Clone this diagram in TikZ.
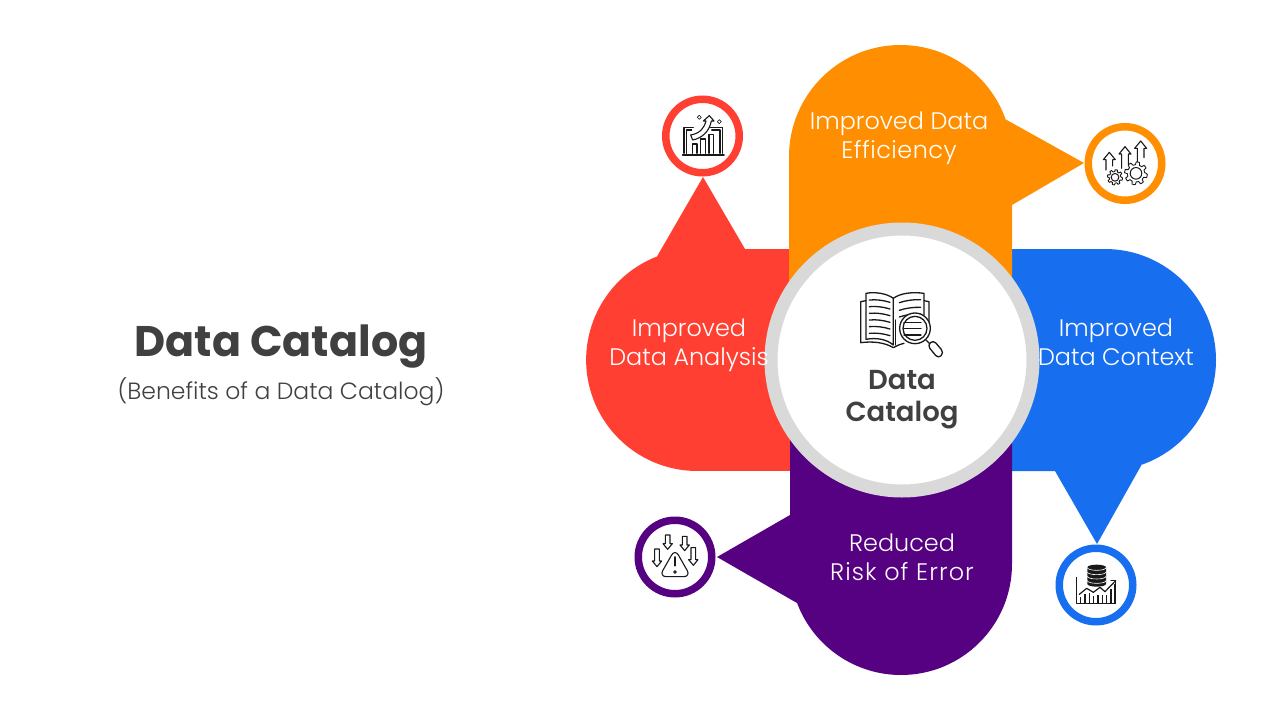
\documentclass[tikz,border=0pt]{standalone}
\usepackage{fontspec}
\setmainfont{Poppins}
\newfontfamily\lightf{Poppins Light}
\newfontfamily\semif{Poppins SemiBold}
\newfontfamily\lightw[LetterSpace=4.6]{Poppins Light}
\newfontfamily\lighte[LetterSpace=2]{Poppins Light}
\usetikzlibrary{calc}
\definecolor{cOrange}{HTML}{FF8F00}
\definecolor{cBlue}{HTML}{176FF0}
\definecolor{cRed}{HTML}{FF3F31}
\definecolor{cPurple}{HTML}{560082}
\definecolor{cRing}{HTML}{D9D9D9}
\definecolor{cText}{HTML}{404040}
\tikzset{
  petal/.style={draw=none},
  badge/.style={circle,draw,line width=7.5pt,fill=white,minimum size=73.5pt,inner sep=0pt},
  petaltext/.style={text=white,align=center,font=\lightf\fontsize{23.9}{29}\selectfont,inner sep=0pt},
  hub/.style={circle,draw=cRing,line width=13pt,fill=white,minimum size=262pt,inner sep=0pt},
  heading/.style={text=cText,align=center,font=\semif\fontsize{27.5}{32}\selectfont,inner sep=0pt},
  ico/.style={draw=black!90,line width=1.1pt,line join=round,line cap=round},
  zoomed/.style={x=0.3333pt,y=-0.3333pt},
}
\newcommand{\geartooth}[3]{% cx cy r, in zoom units
  \draw[ico,line width=0.9pt] plot[smooth cycle,tension=0.2,samples=65,domain=0:354.375]
    ({#1+#3*(1+0.14*sign(sin(8*\x)))*cos(\x)},{#2+#3*(1+0.14*sign(sin(8*\x)))*sin(\x)});
  \draw[ico,line width=1pt] (#1,#2) circle[radius=#3*0.58];
}
\newcommand{\uparrowicon}[3]{% x tip-y bottom-y
  \draw[ico] (#1-10,#3) -- (#1-10,#2+22) -- (#1-18,#2+22) -- (#1,#2) -- (#1+18,#2+22) -- (#1+10,#2+22) -- (#1+10,#3-12);
}
\newcommand{\downarrowicon}[3]{% x top-y tip-y
  \draw[ico] (#1-7,#2) -- (#1+7,#2) -- (#1+7,#3-17) -- (#1+14,#3-17) -- (#1,#3) -- (#1-14,#3-17) -- (#1-7,#3-17) -- cycle;
}
\begin{document}
\begin{tikzpicture}[x=1pt,y=-1pt]
\useasboundingbox (0,0) rectangle (1280,720);
\fill[white] (0,0) rectangle (1280,720);

% petals (y runs down, so arc angles are measured towards +y on screen)
\fill[petal,cBlue] (960,249) -- (1105,249) arc[start angle=-90,end angle=70.4,radius=111]
  -- (1142,464) -- (1097,544) -- (1055,471) -- (960,471) -- cycle;
\fill[petal,cRed] (840,249) -- (745,249) -- (703,177) -- (657,256.5)
  arc[start angle=248.8,end angle=90,radius=111]
  -- (840,471) -- cycle;
\fill[petal,cOrange] (789,300) -- (789,156.5) arc[start angle=180,end angle=340.3,radius=111.5]
  -- (1005,119) -- (1084,163) -- (1012,205) -- (1012,300) -- cycle;
\fill[petal,cPurple] (1012,420) -- (1012,564) arc[start angle=0,end angle=159.4,radius=111]
  -- (797,603) -- (717,557) -- (790,515) -- (790,420) -- cycle;

% hub
\node[hub] (hub) at (902,360) {};
\node[heading] (hubtext) at (902,400) {Data\\Catalog};

% badges
\node[badge,draw=cRed] (bRed) at (702.5,136) {};
\node[badge,draw=cOrange] (bOrange) at (1125,163.5) {};
\node[badge,draw=cBlue] (bBlue) at (1096,585) {};
\node[badge,draw=cPurple] (bPurple) at (675,557) {};

% texts
\node[text=cText,font=\bfseries\fontsize{42.8}{48}\selectfont,inner sep=0pt] (title) at (281,347) {Data Catalog};
\node[text=cText,font=\lightf\fontsize{23.5}{28}\selectfont,inner sep=0pt] (subtitle) at (281,392) {(Benefits of a Data Catalog)};
\node[petaltext] (tOrange) at (899,138) {Improved Data\\{\lighte Efficiency}};
\node[petaltext] (tRed) at (689,345.5) {Improved\\Data Analysis};
\node[petaltext] (tBlue) at (1116,342.5) {Improved\\Data Context};
\node[petaltext] (tPurple) at (902,557.5) {Reduced\\{\lightw Risk of Error}};

% red icon: laptop with chart
\begin{scope}[shift={(650,85)},zoomed]
  \draw[ico] (102,205) -- (102,127) -- (130,127);
  \draw[ico] (180,127) -- (218,127) -- (218,205);
  \draw[ico] (110,205) -- (110,135) -- (125,135);
  \draw[ico] (185,135) -- (210,135) -- (210,205);
  \draw[ico,line width=1.7pt] (98,210) -- (222,210);
  \draw[ico] (127,205) -- (127,177) -- (141,177) -- (141,205);
  \draw[ico] (152,205) -- (152,162) -- (166,162) -- (166,205);
  \draw[ico] (177,205) -- (177,149) -- (191,149) -- (191,205);
  \draw[ico,fill=white] (122,150) .. controls (150,145) and (162,130) .. (168,108) -- (160,108) -- (178,92) -- (192,108) -- (184,108)
     .. controls (178,140) and (155,160) .. (128,165) -- cycle;
  \draw[ico,line width=0.6pt] (148,91) -- (154,97) -- (148,103) -- (142,97) -- cycle (208,104) -- (214,110) -- (208,116) -- (202,110) -- cycle;
\end{scope}

% orange icon: arrows and gears
\begin{scope}[shift={(1075,115)},zoomed]
  \uparrowicon{103}{112}{165}
  \uparrowicon{150}{95}{160}
  \uparrowicon{197}{78}{140}
  \geartooth{120}{187}{20}
  \geartooth{183}{175}{30}
\end{scope}

% blue icon: database and chart
\begin{scope}[shift={(1045,535)},zoomed]
  \fill[black!90] (127,97) -- (127,147) arc[start angle=180,end angle=0,x radius=28,y radius=8] -- (183,97) arc[start angle=0,end angle=-180,x radius=28,y radius=8] -- cycle;
  \foreach \yy in {97,110,123,136}{
    \draw[white,line width=0.6pt] (127,\yy+1) arc[start angle=180,end angle=0,x radius=28,y radius=8];
  }
  \draw[ico] (95,127) -- (95,205) -- (212,205);
  \foreach \xx/\yy in {107/178,120/170,133/165,146/175,159/172,172/172,185/172,198/155,210/140}{
    \draw[black!90,line width=1.3pt] (\xx,204) -- (\xx,\yy+8);
  }
  \draw[ico,line width=1.2pt] (103,178) -- (125,160) -- (145,172) -- (165,157) -- (180,170) -- (212,137);
  \draw[ico,line width=1.2pt] (198,137) -- (212,137) -- (212,151);
\end{scope}

% purple icon: warning with arrows
\begin{scope}[shift={(625,507)},zoomed]
  \draw[ico,rounded corners=7pt] (150,126) -- (197,209) -- (103,209) -- cycle;
  \draw[ico,line width=1.7pt] (150,150) -- (150,176);
  \draw[ico] (150,195) circle[radius=4];
  \downarrowicon{128}{84}{127}
  \downarrowicon{179}{88}{131}
  \downarrowicon{96}{126}{179}
  \downarrowicon{205}{122}{175}
\end{scope}

% hub icon: book and magnifier
\begin{scope}[shift={(840,280)},zoomed]
  \draw[ico,line width=1.3pt] (160,195) -- (160,55) .. controls (140,40) and (105,35) .. (78,40) -- (78,178) .. controls (110,172) and (140,178) .. (160,195);
  \draw[ico,line width=1.3pt] (160,55) .. controls (180,40) and (215,35) .. (252,40) -- (252,105);
  \draw[ico,line width=1.3pt] (78,62) -- (62,65) -- (62,188) .. controls (100,183) and (135,188) .. (160,203) .. controls (170,197) and (180,193) .. (192,190);
  \draw[ico,line width=1.3pt] (252,62) -- (267,65) -- (267,125);
  \draw[ico,line width=1.3pt] (167,195) -- (167,120);
  \foreach \yy/\xa/\xb in {60/88/150,80/88/150,100/88/150,120/88/150,140/88/150,160/88/150}{
    \draw[ico,line width=1.3pt] (\xa,\yy) .. controls (110,\yy-2) and (130,\yy+1) .. (\xb,\yy+7);
  }
  \foreach \yy in {62,85,105}{
    \draw[ico,line width=1.3pt] (178,\yy+6) .. controls (195,\yy) and (220,\yy-4) .. (242,\yy-3);
  }
  \draw[ico,line width=1.3pt,fill=white] (225,145) circle[radius=46];
  \draw[ico,line width=1.3pt,fill=white] (225,145) circle[radius=36];
  \draw[ico,line width=1.2pt] (192,128) -- (243,128) (192,145) -- (243,145) (192,165) -- (243,165);
  \draw[ico,line width=1.3pt] (258,180) -- (272,194);
  \draw[ico,line width=1.3pt,rounded corners=4pt,fill=white] (262,196) -- (280,180) -- (312,218) -- (295,236) -- cycle;
\end{scope}
\end{tikzpicture}
\end{document}
